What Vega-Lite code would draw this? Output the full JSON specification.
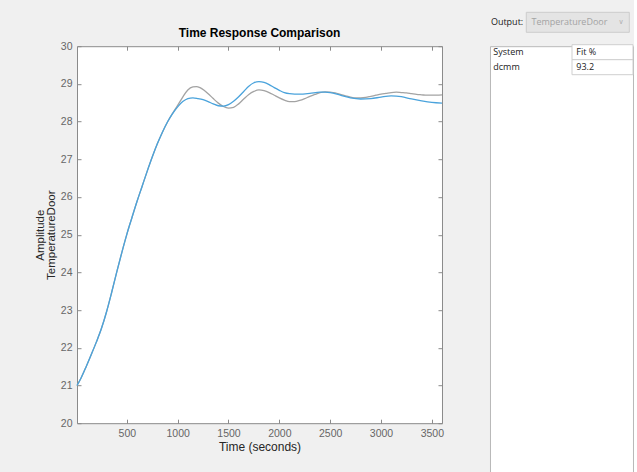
{
  "$schema": "https://vega.github.io/schema/vega-lite/v6.json",
  "background": "#f0f0f0",
  "padding": {"left": 34, "top": 11.2, "right": 0, "bottom": 0},
  "config": {"view": {"stroke": null}},
  "spacing": 44,
  "datasets": {
    "resp": [
      {"t": 10, "series": "TemperatureDoor", "v": 21.0},
      {"t": 50, "series": "TemperatureDoor", "v": 21.2},
      {"t": 100, "series": "TemperatureDoor", "v": 21.5},
      {"t": 150, "series": "TemperatureDoor", "v": 21.82},
      {"t": 200, "series": "TemperatureDoor", "v": 22.15},
      {"t": 250, "series": "TemperatureDoor", "v": 22.51},
      {"t": 300, "series": "TemperatureDoor", "v": 22.95},
      {"t": 350, "series": "TemperatureDoor", "v": 23.46},
      {"t": 400, "series": "TemperatureDoor", "v": 24.0},
      {"t": 450, "series": "TemperatureDoor", "v": 24.52},
      {"t": 500, "series": "TemperatureDoor", "v": 25.01},
      {"t": 550, "series": "TemperatureDoor", "v": 25.45},
      {"t": 600, "series": "TemperatureDoor", "v": 25.88},
      {"t": 650, "series": "TemperatureDoor", "v": 26.28},
      {"t": 700, "series": "TemperatureDoor", "v": 26.68},
      {"t": 750, "series": "TemperatureDoor", "v": 27.06},
      {"t": 800, "series": "TemperatureDoor", "v": 27.41},
      {"t": 850, "series": "TemperatureDoor", "v": 27.72},
      {"t": 900, "series": "TemperatureDoor", "v": 27.99},
      {"t": 950, "series": "TemperatureDoor", "v": 28.22},
      {"t": 1000, "series": "TemperatureDoor", "v": 28.43},
      {"t": 1050, "series": "TemperatureDoor", "v": 28.65},
      {"t": 1100, "series": "TemperatureDoor", "v": 28.84},
      {"t": 1150, "series": "TemperatureDoor", "v": 28.92},
      {"t": 1185, "series": "TemperatureDoor", "v": 28.93},
      {"t": 1220, "series": "TemperatureDoor", "v": 28.9},
      {"t": 1260, "series": "TemperatureDoor", "v": 28.83},
      {"t": 1300, "series": "TemperatureDoor", "v": 28.74},
      {"t": 1350, "series": "TemperatureDoor", "v": 28.61},
      {"t": 1400, "series": "TemperatureDoor", "v": 28.49},
      {"t": 1450, "series": "TemperatureDoor", "v": 28.4},
      {"t": 1500, "series": "TemperatureDoor", "v": 28.36},
      {"t": 1550, "series": "TemperatureDoor", "v": 28.38},
      {"t": 1600, "series": "TemperatureDoor", "v": 28.47},
      {"t": 1650, "series": "TemperatureDoor", "v": 28.6},
      {"t": 1700, "series": "TemperatureDoor", "v": 28.72},
      {"t": 1750, "series": "TemperatureDoor", "v": 28.8},
      {"t": 1800, "series": "TemperatureDoor", "v": 28.84},
      {"t": 1850, "series": "TemperatureDoor", "v": 28.82},
      {"t": 1900, "series": "TemperatureDoor", "v": 28.77},
      {"t": 1950, "series": "TemperatureDoor", "v": 28.7},
      {"t": 2000, "series": "TemperatureDoor", "v": 28.63},
      {"t": 2050, "series": "TemperatureDoor", "v": 28.57},
      {"t": 2100, "series": "TemperatureDoor", "v": 28.53},
      {"t": 2150, "series": "TemperatureDoor", "v": 28.53},
      {"t": 2200, "series": "TemperatureDoor", "v": 28.56},
      {"t": 2250, "series": "TemperatureDoor", "v": 28.61},
      {"t": 2300, "series": "TemperatureDoor", "v": 28.67},
      {"t": 2350, "series": "TemperatureDoor", "v": 28.72},
      {"t": 2400, "series": "TemperatureDoor", "v": 28.77},
      {"t": 2450, "series": "TemperatureDoor", "v": 28.79},
      {"t": 2500, "series": "TemperatureDoor", "v": 28.78},
      {"t": 2550, "series": "TemperatureDoor", "v": 28.76},
      {"t": 2600, "series": "TemperatureDoor", "v": 28.72},
      {"t": 2650, "series": "TemperatureDoor", "v": 28.68},
      {"t": 2700, "series": "TemperatureDoor", "v": 28.65},
      {"t": 2750, "series": "TemperatureDoor", "v": 28.63},
      {"t": 2800, "series": "TemperatureDoor", "v": 28.63},
      {"t": 2850, "series": "TemperatureDoor", "v": 28.64},
      {"t": 2900, "series": "TemperatureDoor", "v": 28.67},
      {"t": 2950, "series": "TemperatureDoor", "v": 28.7},
      {"t": 3000, "series": "TemperatureDoor", "v": 28.73},
      {"t": 3050, "series": "TemperatureDoor", "v": 28.75},
      {"t": 3100, "series": "TemperatureDoor", "v": 28.77},
      {"t": 3150, "series": "TemperatureDoor", "v": 28.78},
      {"t": 3200, "series": "TemperatureDoor", "v": 28.77},
      {"t": 3250, "series": "TemperatureDoor", "v": 28.76},
      {"t": 3300, "series": "TemperatureDoor", "v": 28.74},
      {"t": 3350, "series": "TemperatureDoor", "v": 28.72},
      {"t": 3400, "series": "TemperatureDoor", "v": 28.71},
      {"t": 3450, "series": "TemperatureDoor", "v": 28.7},
      {"t": 3500, "series": "TemperatureDoor", "v": 28.7},
      {"t": 3550, "series": "TemperatureDoor", "v": 28.7},
      {"t": 3600, "series": "TemperatureDoor", "v": 28.71},
      {"t": 10, "series": "dcmm", "v": 21.0},
      {"t": 50, "series": "dcmm", "v": 21.2},
      {"t": 100, "series": "dcmm", "v": 21.5},
      {"t": 150, "series": "dcmm", "v": 21.82},
      {"t": 200, "series": "dcmm", "v": 22.15},
      {"t": 250, "series": "dcmm", "v": 22.51},
      {"t": 300, "series": "dcmm", "v": 22.95},
      {"t": 350, "series": "dcmm", "v": 23.46},
      {"t": 400, "series": "dcmm", "v": 24.0},
      {"t": 450, "series": "dcmm", "v": 24.52},
      {"t": 500, "series": "dcmm", "v": 25.01},
      {"t": 550, "series": "dcmm", "v": 25.45},
      {"t": 600, "series": "dcmm", "v": 25.88},
      {"t": 650, "series": "dcmm", "v": 26.28},
      {"t": 700, "series": "dcmm", "v": 26.68},
      {"t": 750, "series": "dcmm", "v": 27.06},
      {"t": 800, "series": "dcmm", "v": 27.41},
      {"t": 850, "series": "dcmm", "v": 27.72},
      {"t": 900, "series": "dcmm", "v": 27.99},
      {"t": 950, "series": "dcmm", "v": 28.21},
      {"t": 1000, "series": "dcmm", "v": 28.39},
      {"t": 1050, "series": "dcmm", "v": 28.53},
      {"t": 1100, "series": "dcmm", "v": 28.61},
      {"t": 1150, "series": "dcmm", "v": 28.63},
      {"t": 1200, "series": "dcmm", "v": 28.61},
      {"t": 1250, "series": "dcmm", "v": 28.58},
      {"t": 1300, "series": "dcmm", "v": 28.53},
      {"t": 1350, "series": "dcmm", "v": 28.47},
      {"t": 1400, "series": "dcmm", "v": 28.42},
      {"t": 1450, "series": "dcmm", "v": 28.41},
      {"t": 1500, "series": "dcmm", "v": 28.45},
      {"t": 1550, "series": "dcmm", "v": 28.54},
      {"t": 1600, "series": "dcmm", "v": 28.66},
      {"t": 1650, "series": "dcmm", "v": 28.8},
      {"t": 1700, "series": "dcmm", "v": 28.94},
      {"t": 1750, "series": "dcmm", "v": 29.03},
      {"t": 1800, "series": "dcmm", "v": 29.06},
      {"t": 1850, "series": "dcmm", "v": 29.04},
      {"t": 1900, "series": "dcmm", "v": 28.98},
      {"t": 1950, "series": "dcmm", "v": 28.9},
      {"t": 2000, "series": "dcmm", "v": 28.83},
      {"t": 2050, "series": "dcmm", "v": 28.77},
      {"t": 2100, "series": "dcmm", "v": 28.74},
      {"t": 2150, "series": "dcmm", "v": 28.73},
      {"t": 2200, "series": "dcmm", "v": 28.73},
      {"t": 2300, "series": "dcmm", "v": 28.75},
      {"t": 2400, "series": "dcmm", "v": 28.78},
      {"t": 2450, "series": "dcmm", "v": 28.78},
      {"t": 2500, "series": "dcmm", "v": 28.77},
      {"t": 2600, "series": "dcmm", "v": 28.7},
      {"t": 2700, "series": "dcmm", "v": 28.63},
      {"t": 2800, "series": "dcmm", "v": 28.6},
      {"t": 2900, "series": "dcmm", "v": 28.61},
      {"t": 3000, "series": "dcmm", "v": 28.65},
      {"t": 3100, "series": "dcmm", "v": 28.68},
      {"t": 3200, "series": "dcmm", "v": 28.66},
      {"t": 3300, "series": "dcmm", "v": 28.6},
      {"t": 3400, "series": "dcmm", "v": 28.55},
      {"t": 3500, "series": "dcmm", "v": 28.51},
      {"t": 3600, "series": "dcmm", "v": 28.49}
    ],
    "controls": [
      {"row": "output", "ctl": "label", "text": "Output:"},
      {"row": "output", "ctl": "dropdown", "text": "TemperatureDoor"}
    ],
    "fit": [
      {"row": "header", "col": "System", "text": "System"},
      {"row": "header", "col": "Fit %", "text": "Fit %"},
      {"row": "dcmm", "col": "System", "text": "dcmm"},
      {"row": "dcmm", "col": "Fit %", "text": "93.2"}
    ]
  },
  "hconcat": [
    {
      "width": 365,
      "height": 377,
      "view": {"fill": "#ffffff", "stroke": null},
      "title": {"text": "Time Response Comparison", "font": "Liberation Sans", "fontSize": 12, "fontWeight": "bold", "color": "#000000", "anchor": "middle", "offset": 1},
      "data": {"name": "resp"},
      "layer": [
        {
          "mark": {"type": "line", "strokeWidth": 1.3, "interpolate": "monotone"},
          "encoding": {
            "x": {"field": "t", "type": "quantitative",
              "scale": {"domain": [10, 3600], "nice": false, "zero": false},
              "axis": {"orient": "bottom", "values": [500, 1000, 1500, 2000, 2500, 3000, 3500], "format": "d", "grid": false,
                "domainColor": "#8a8a8a", "tickColor": "#8a8a8a", "tickSize": -4, "labelPadding": 9,
                "labelFont": "Liberation Sans", "labelFontSize": 10.5, "labelColor": "#666666", "labelFlush": false,
                "title": "Time (seconds)", "titleFont": "Liberation Sans", "titleFontSize": 12, "titleFontWeight": "normal", "titleColor": "#262626", "titlePadding": 3}},
            "y": {"field": "v", "type": "quantitative",
              "scale": {"domain": [20, 30], "nice": false, "zero": false},
              "axis": {"orient": "left", "values": [20, 21, 22, 23, 24, 25, 26, 27, 28, 29, 30], "grid": false,
                "domainColor": "#8a8a8a", "tickColor": "#8a8a8a", "tickSize": -4, "labelPadding": 9,
                "labelFont": "Liberation Sans", "labelFontSize": 10.5, "labelColor": "#666666", "labelFlush": false,
                "title": ["Amplitude", "TemperatureDoor"], "titleFont": "Liberation Sans", "titleFontSize": 11.5, "titleFontWeight": "normal", "titleColor": "#262626", "titlePadding": 4, "titleLineHeight": 11}},
            "color": {"field": "series", "type": "nominal", "legend": null,
              "scale": {"domain": ["TemperatureDoor", "dcmm"], "range": ["#a3a3a3", "#4aa3dc"]}}
          }
        },
        {
          "mark": {"type": "line", "strokeOpacity": 0},
          "encoding": {
            "x": {"field": "t", "type": "quantitative",
              "axis": {"orient": "top", "values": [500, 1000, 1500, 2000, 2500, 3000, 3500], "labels": false, "title": null, "grid": false,
                "domainColor": "#8a8a8a", "tickColor": "#8a8a8a", "tickSize": -4}},
            "y": {"field": "v", "type": "quantitative",
              "axis": {"orient": "right", "values": [20, 21, 22, 23, 24, 25, 26, 27, 28, 29, 30], "labels": false, "title": null, "grid": false,
                "domainColor": "#8a8a8a", "tickColor": "#8a8a8a", "tickSize": -4}},
            "detail": {"field": "series"}
          }
        }
      ],
      "resolve": {"axis": {"x": "independent", "y": "independent"}}
    },
    {
      "width": 143,
      "height": 426.4,
      "view": {"fill": "#ffffff", "stroke": "#b9b9b9"},
      "layer": [
        {
          "data": {"name": "controls"},
          "encoding": {
            "y": {"field": "row", "type": "nominal", "axis": null,
              "scale": {"domain": ["output"], "range": [-33.9, -13.9], "paddingInner": 0, "paddingOuter": 0}}
          },
          "layer": [
            {
              "transform": [{"filter": "datum.ctl === 'dropdown'"}],
              "mark": {"type": "rect", "fill": "#e4e4e4", "stroke": "#cccccc", "strokeWidth": 1},
              "encoding": {
                "x": {"field": "ctl", "type": "nominal", "axis": null,
                  "scale": {"domain": ["label", "dropdown"], "range": [-66.7, 139.3], "paddingInner": 0, "paddingOuter": 0}}
              }
            },
            {
              "transform": [{"filter": "datum.ctl === 'label'"}],
              "mark": {"type": "text", "align": "right", "baseline": "middle", "font": "Open Sans", "fontSize": 9, "color": "#1a1a1a"},
              "encoding": {
                "x": {"field": "ctl", "type": "nominal", "bandPosition": 0.97},
                "text": {"field": "text"}
              }
            },
            {
              "transform": [{"filter": "datum.ctl === 'dropdown'"}],
              "mark": {"type": "text", "align": "left", "baseline": "middle", "font": "Open Sans", "fontSize": 9, "color": "#a3a3a3"},
              "encoding": {
                "x": {"field": "ctl", "type": "nominal", "bandPosition": 0.05},
                "text": {"field": "text"}
              }
            },
            {
              "transform": [{"filter": "datum.ctl === 'dropdown'"}],
              "mark": {"type": "text", "align": "center", "baseline": "middle", "font": "DejaVu Sans", "fontSize": 7, "color": "#b0b0b0", "text": "∨"},
              "encoding": {
                "x": {"field": "ctl", "type": "nominal", "bandPosition": 0.92}
              }
            }
          ]
        },
        {
          "data": {"name": "fit"},
          "encoding": {
            "y": {"field": "row", "type": "nominal", "axis": null,
              "scale": {"domain": ["header", "dcmm"], "range": [-1.5, 28.5], "paddingInner": 0, "paddingOuter": 0}},
            "x": {"field": "col", "type": "nominal", "axis": null,
              "scale": {"domain": ["System", "Fit %"], "range": [21, 143], "paddingInner": 0, "paddingOuter": 0}}
          },
          "layer": [
            {
              "transform": [{"filter": "datum.col === 'Fit %'"}],
              "mark": {"type": "rect", "fill": "#ffffff", "stroke": "#cfcfcf", "strokeWidth": 1}
            },
            {
              "transform": [{"filter": "datum.col === 'System'"}],
              "mark": {"type": "text", "align": "left", "baseline": "middle", "font": "Open Sans", "fontSize": 9, "color": "#1a1a1a"},
              "encoding": {
                "x": {"field": "col", "type": "nominal", "bandPosition": -0.29},
                "text": {"field": "text"}
              }
            },
            {
              "transform": [{"filter": "datum.col === 'Fit %'"}],
              "mark": {"type": "text", "align": "left", "baseline": "middle", "font": "Open Sans", "fontSize": 9, "color": "#1a1a1a"},
              "encoding": {
                "x": {"field": "col", "type": "nominal", "bandPosition": 0.07},
                "text": {"field": "text"}
              }
            }
          ]
        }
      ],
      "resolve": {"scale": {"x": "independent", "y": "independent"}}
    }
  ]
}
